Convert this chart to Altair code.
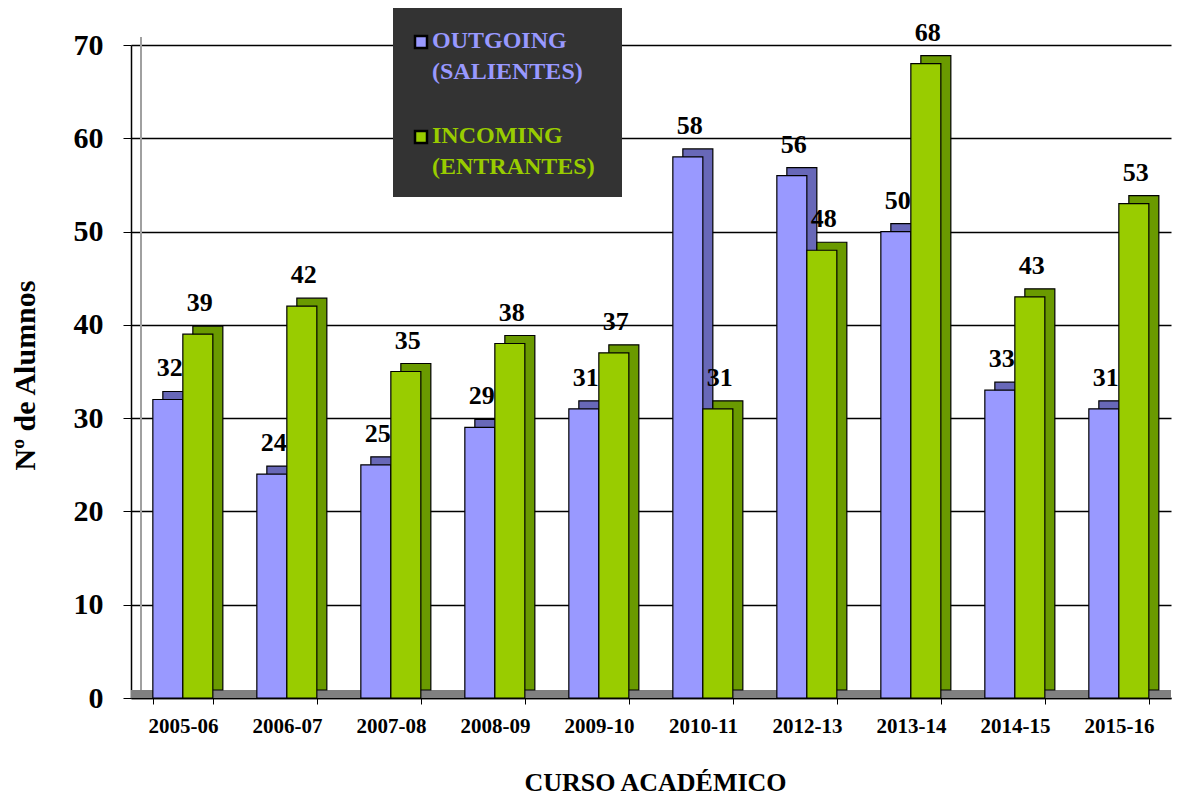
import altair as alt
import pandas as pd

years = ["2005-06", "2006-07", "2007-08", "2008-09", "2009-10",
         "2010-11", "2012-13", "2013-14", "2014-15", "2015-16"]
outgoing = [32, 24, 25, 29, 31, 58, 56, 50, 33, 31]
incoming = [39, 42, 35, 38, 37, 31, 48, 68, 43, 53]
series = ["OUTGOING", "INCOMING"]
legend_labels = ["OUTGOING\n(SALIENTES)", "INCOMING\n(ENTRANTES)"]

rows = []
for y, o, i in zip(years, outgoing, incoming):
    rows.append({"curso": y, "serie": series[0], "n": o})
    rows.append({"curso": y, "serie": series[1], "n": i})
df = pd.DataFrame(rows)

W, H = 1040, 653
FONT = "Liberation Serif"
DEPTH_X, DEPTH_Y = 10, 8

x_enc = alt.X("curso:N", sort=years,
              scale=alt.Scale(paddingInner=0.42, paddingOuter=0.21),
              axis=alt.Axis(title="CURSO ACADÉMICO", labelAngle=0, labelFontSize=21,
                            labelFontWeight="bold", labelFont=FONT, labelColor="black",
                            tickBand="extent", tickSize=6, labelPadding=11,
                            titleFontSize=26, titleFont=FONT, titleFontWeight="bold",
                            titleColor="black",
                            titleX=524, titleY=92, titleBaseline="alphabetic",
                            titleAnchor="middle",
                            domainColor="black", tickColor="black", domainWidth=1.5))
y_enc = alt.Y("n:Q", scale=alt.Scale(domain=[0, 70], nice=False),
              axis=alt.Axis(title="Nº de Alumnos", values=list(range(0, 80, 10)),
                            labelFontSize=30, labelFontWeight="bold", labelFont=FONT,
                            labelColor="black", tickSize=8, labelPadding=20,
                            titleFontSize=30, titleFont=FONT, titleFontWeight="bold",
                            titleColor="black",
                            titleX=-106, titleY=330, titleBaseline="middle",
                            grid=True, gridColor="black", gridWidth=1.5,
                            domainColor="black", tickColor="black", domainWidth=1.5))

base = alt.Chart(df)

floor = alt.Chart(pd.DataFrame({"a": [0]})).mark_rect(color="#808080").encode(
    x=alt.value(0), x2=alt.value(W), y=alt.value(H - DEPTH_Y), y2=alt.value(H))

wall = alt.Chart(pd.DataFrame({"a": [0]})).mark_rule(color="#A0A0A0", strokeWidth=2).encode(
    x=alt.value(DEPTH_X), y=alt.value(-DEPTH_Y), y2=alt.value(H - DEPTH_Y))

back = base.mark_bar(yOffset=-DEPTH_Y, y2Offset=-DEPTH_Y,
                     stroke="black", strokeWidth=1.2).encode(
    x=x_enc,
    xOffset=alt.XOffset("serie:N", sort=series,
                        scale=alt.Scale(range=[DEPTH_X, 60 + DEPTH_X])),
    y=y_enc,
    color=alt.Color("serie:N", sort=series,
                    scale=alt.Scale(domain=series, range=["#6868B8", "#6A9A00"]),
                    legend=None))

front = base.mark_bar(stroke="black", strokeWidth=1.2).encode(
    x=alt.X("curso:N", sort=years),
    xOffset=alt.XOffset("serie:N", sort=series, scale=alt.Scale(range=[0, 60])),
    y=alt.Y("n:Q"),
    color=alt.Color("serie:N", sort=series,
                    scale=alt.Scale(domain=series, range=["#9999FF", "#99CC00"]),
                    legend=None))

labels = base.mark_text(font=FONT, fontSize=26, fontWeight="bold", color="black",
                        baseline="alphabetic", dy=-23, dx=2).encode(
    x=alt.X("curso:N", sort=years),
    xOffset=alt.XOffset("serie:N", sort=series, scale=alt.Scale(range=[0, 60])),
    y=alt.Y("n:Q"), text="n:Q")

one = pd.DataFrame({"a": [0]})
leg_box = alt.Chart(one).mark_rect(color="#333333").encode(
    x=alt.value(262), x2=alt.value(491), y=alt.value(-38), y2=alt.value(152))
leg_sq1 = alt.Chart(one).mark_rect(color="#9999FF", stroke="black", strokeWidth=2.5).encode(
    x=alt.value(284), x2=alt.value(296), y=alt.value(-9), y2=alt.value(3))
leg_sq2 = alt.Chart(one).mark_rect(color="#99CC00", stroke="black", strokeWidth=2.5).encode(
    x=alt.value(284), x2=alt.value(296), y=alt.value(86), y2=alt.value(98))
leg_t1 = alt.Chart(pd.DataFrame({"t": [legend_labels[0]]})).mark_text(
    font=FONT, fontSize=24, fontWeight="bold", color="#9999FF", align="left",
    baseline="middle", lineBreak="\n", lineHeight=31).encode(
    x=alt.value(301), y=alt.value(-4), text="t:N")
leg_t2 = alt.Chart(pd.DataFrame({"t": [legend_labels[1]]})).mark_text(
    font=FONT, fontSize=24, fontWeight="bold", color="#99CC00", align="left",
    baseline="middle", lineBreak="\n", lineHeight=31).encode(
    x=alt.value(301), y=alt.value(91), text="t:N")

chart = alt.layer(floor, wall, back, front, labels,
                  leg_box, leg_sq1, leg_sq2, leg_t1, leg_t2).resolve_scale(
    color="independent", xOffset="independent"
).properties(
    width=W, height=H,
    autosize=alt.AutoSizeParams(type="none"),
    padding={"left": 123, "top": 37, "right": 5, "bottom": 101},
    background="white",
).configure_view(stroke=None)

chart.save("out.html", embed_options={"renderer": "svg", "actions": False})
